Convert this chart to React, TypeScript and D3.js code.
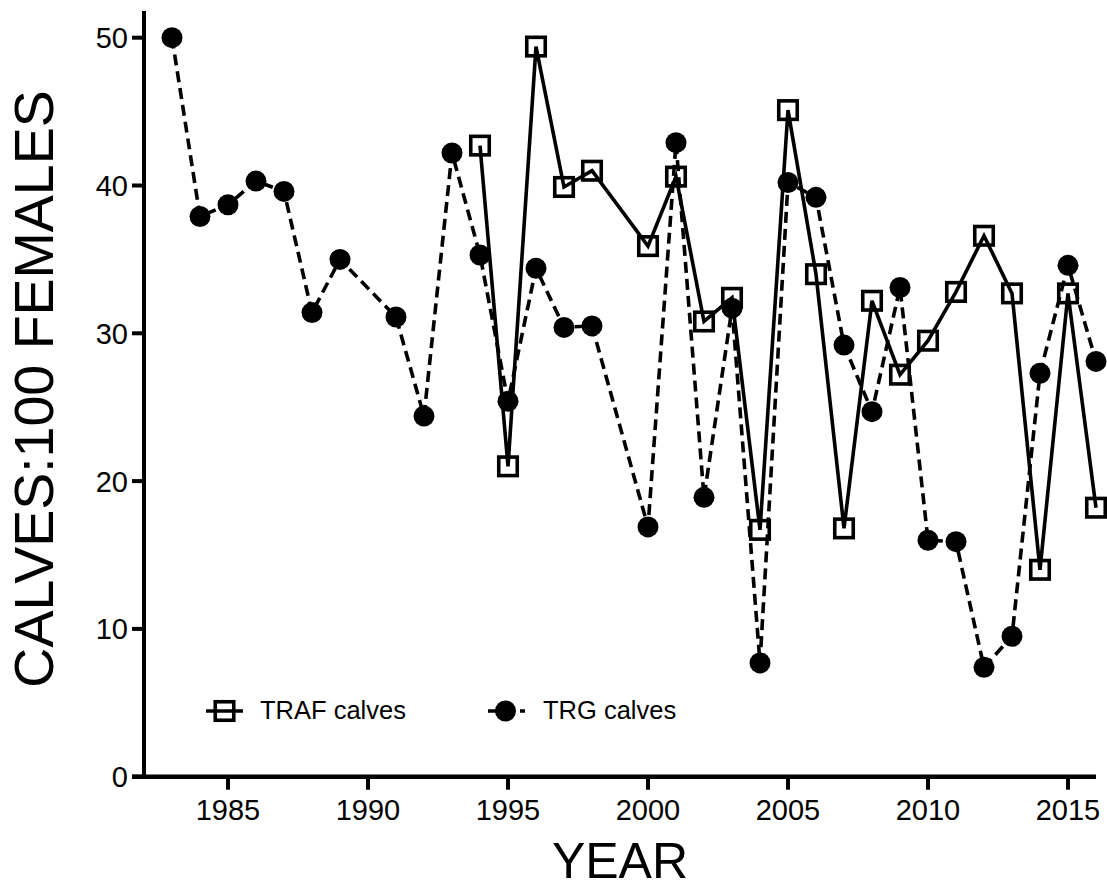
import React from "react";
import * as d3 from "d3";

const trgYears = [1983, 1984, 1985, 1986, 1987, 1988, 1989, 1991, 1992, 1993, 1994, 1995, 1996, 1997, 1998, 2000, 2001, 2002, 2003, 2004, 2005, 2006, 2007, 2008, 2009, 2010, 2011, 2012, 2013, 2014, 2015, 2016];
const trgValues = [50.0, 37.9, 38.7, 40.3, 39.6, 31.4, 35.0, 31.1, 24.4, 42.2, 35.3, 25.4, 34.4, 30.4, 30.5, 16.9, 42.9, 18.9, 31.7, 7.7, 40.2, 39.2, 29.2, 24.7, 33.1, 16.0, 15.9, 7.4, 9.5, 27.3, 34.6, 28.1];

const trafYears = [1994, 1995, 1996, 1997, 1998, 2000, 2001, 2002, 2003, 2004, 2005, 2006, 2007, 2008, 2009, 2010, 2011, 2012, 2013, 2014, 2015, 2016];
const trafValues = [42.7, 21.0, 49.4, 39.9, 41.0, 35.9, 40.6, 30.8, 32.4, 16.7, 45.1, 34.0, 16.8, 32.2, 27.2, 29.5, 32.8, 36.6, 32.7, 14.0, 32.7, 18.2];

const xTicks = [1985, 1990, 1995, 2000, 2005, 2010, 2015];
const yTicks = [0, 10, 20, 30, 40, 50];

const seriesNames = ["TRAF calves", "TRG calves"];
const xTitle = "YEAR";
const yTitle = "CALVES:100 FEMALES";

const FONT = "'Liberation Sans', Arial, Helvetica, sans-serif";

export default function App() {
  const W = 1107;
  const H = 884;
  const x = d3.scaleLinear().domain([1982, 2016]).range([144, 1096]);
  const y = d3.scaleLinear().domain([0, 50]).range([776.7, 37.7]);

  const trg = trgYears.map((yr, i) => [yr, trgValues[i]] as [number, number]);
  const traf = trafYears.map((yr, i) => [yr, trafValues[i]] as [number, number]);

  const line = d3
    .line<[number, number]>()
    .x((d) => x(d[0]))
    .y((d) => y(d[1]));

  const sq = 18.5;
  const r = 10.5;
  const dash = "11,6";
  const sw = 3.6;

  const axisX0 = x(1982);
  const axisY0 = y(0);
  const axisTop = y(51.8);

  return (
    <svg
      width={W}
      height={H}
      style={{ position: "absolute", left: 0, top: 0, background: "#fff", display: "block" }}
      fontFamily={FONT}
    >
      <rect x={0} y={0} width={W} height={H} fill="#fff" />

      {/* TRG series */}
      <path d={line(trg) || ""} fill="none" stroke="#000" strokeWidth={sw} strokeDasharray={dash} />
      {trg.map((d, i) => (
        <circle key={"c" + i} cx={x(d[0])} cy={y(d[1])} r={r} fill="#000" />
      ))}

      {/* TRAF series */}
      <path d={line(traf) || ""} fill="none" stroke="#000" strokeWidth={sw} />
      {traf.map((d, i) => (
        <rect
          key={"s" + i}
          x={x(d[0]) - sq / 2}
          y={y(d[1]) - sq / 2}
          width={sq}
          height={sq}
          fill="none"
          stroke="#000"
          strokeWidth={sw}
        />
      ))}

      {/* Axes */}
      <line x1={axisX0} x2={axisX0} y1={axisTop} y2={axisY0 + 2} stroke="#000" strokeWidth={4} />
      <line x1={axisX0 - 12} x2={x(2016)} y1={axisY0} y2={axisY0} stroke="#000" strokeWidth={4.5} />
      {yTicks.map((t) => (
        <g key={"yt" + t}>
          <line x1={axisX0 - 12} x2={axisX0} y1={y(t)} y2={y(t)} stroke="#000" strokeWidth={4} />
          <text x={128} y={y(t)} dy="0.36em" textAnchor="end" fontSize={29} fill="#000">
            {t}
          </text>
        </g>
      ))}
      {xTicks.map((t) => (
        <g key={"xt" + t}>
          <line x1={x(t)} x2={x(t)} y1={axisY0} y2={axisY0 + 13} stroke="#000" strokeWidth={4} />
          <text x={x(t)} y={820} textAnchor="middle" fontSize={29} fill="#000">
            {t}
          </text>
        </g>
      ))}

      {/* Axis titles */}
      <text x={(x(1982) + x(2016)) / 2} y={878} textAnchor="middle" fontSize={50} fill="#000">
        {xTitle}
      </text>
      <text
        transform={`translate(53, 389) rotate(-90)`}
        textAnchor="middle"
        fontSize={55.5}
        fill="#000"
      >
        {yTitle}
      </text>

      {/* Legend */}
      <g>
        <line x1={206} x2={243} y1={711} y2={711} stroke="#000" strokeWidth={sw} />
        <rect x={224.5 - sq / 2} y={711 - sq / 2} width={sq} height={sq} fill="none" stroke="#000" strokeWidth={sw} />
        <text x={260} y={719} fontSize={25.5} fill="#000">
          {seriesNames[0]}
        </text>
        <line x1={488} x2={525} y1={711} y2={711} stroke="#000" strokeWidth={sw} strokeDasharray="10,6" />
        <circle cx={505.5} cy={711} r={r} fill="#000" />
        <text x={543} y={719} fontSize={25.5} fill="#000">
          {seriesNames[1]}
        </text>
      </g>
    </svg>
  );
}
